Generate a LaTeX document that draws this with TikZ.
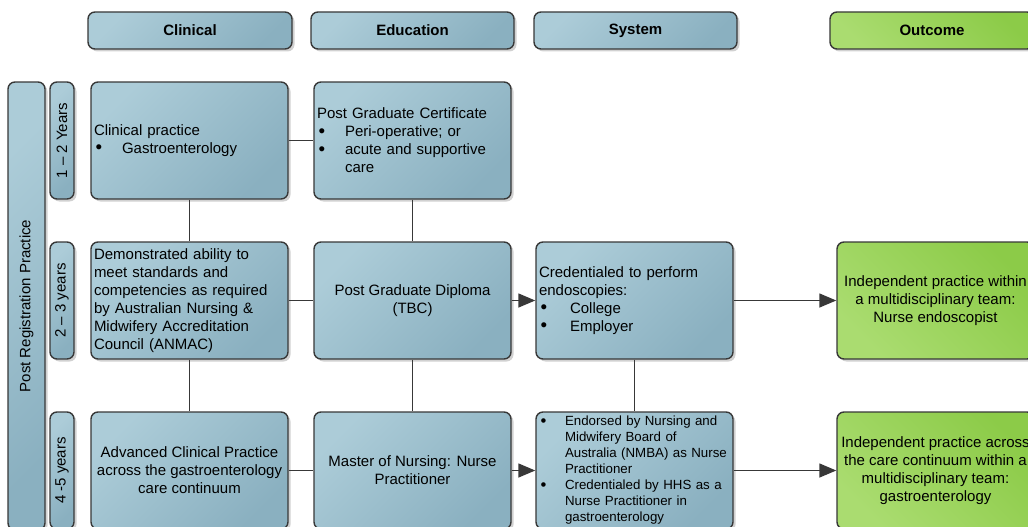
\documentclass[tikz,border=0pt]{standalone}
\usepackage{fontspec}
\setmainfont{Liberation Sans}
\usetikzlibrary{shadows,arrows.meta}
\definecolor{blueL}{HTML}{ACCCD8}
\definecolor{blueD}{HTML}{8AB0C0}
\definecolor{greenL}{HTML}{AADC70}
\definecolor{greenD}{HTML}{8CCB48}
\definecolor{edgec}{HTML}{383838}
\newcommand{\bul}[1][28pt]{\makebox[#1][l]{\hspace{1.5pt}\raisebox{-0.3pt}{\scalebox{1.25}{\textbullet}}}}
\newcommand{\ind}[1][28pt]{\hspace*{#1}}
\begin{document}
\begin{tikzpicture}[x=1pt,y=-1pt,
  shadowed/.style={drop shadow={shadow xshift=2.5pt,shadow yshift=-2.5pt,fill=black!40,opacity=0.45}},
  bluebox/.style={draw=edgec, line width=1.4pt, rounded corners=7pt,
    top color=blueL, bottom color=blueD, shading angle=45, shadowed,
    inner xsep=3pt, inner ysep=0pt, font=\fontsize{15}{18}\selectfont},
  greenbox/.style={bluebox, top color=greenD, bottom color=greenL, shading angle=-45},
  cell/.style={minimum width=197pt, minimum height=117pt},
  lefttext/.style={text width=191pt, align=left},
  centertext/.style={align=center},
  header/.style={minimum height=37pt, font=\fontsize{15}{18}\selectfont\bfseries},
  yearbar/.style={bluebox, minimum width=24pt, minimum height=117pt, inner xsep=0pt},
  sidelabel/.style={rotate=90, font=\fontsize{15}{18}\selectfont},
  conn/.style={draw=edgec, line width=1.4pt},
  arr/.style={conn, -{Triangle[length=17pt,width=14pt]}}
]
\useasboundingbox (0,0) rectangle (1028,527);

% headers
\node[bluebox, header, minimum width=204pt] (hclin) at (190,30.5) {Clinical};
\node[bluebox, header, minimum width=203pt] (hedu) at (412.5,30.5) {Education};
\node[bluebox, header, minimum width=203pt] (hsys) at (635.5,30.5) {System};
\node[greenbox, header, minimum width=204pt] (hout) at (932,30.5) {Outcome};

% left bars
\node[bluebox, minimum width=37pt, minimum height=448pt] (prp) at (26.5,306) {};
\node[sidelabel] (prpl) at (prp.center) {Post Registration Practice};
\node[yearbar] (y1) at (62,140.5) {};
\node[sidelabel] (y1l) at (y1.center) {1 – 2 Years};
\node[yearbar] (y2) at (62,300.5) {};
\node[sidelabel] (y2l) at (y2.center) {2 – 3 years};
\node[yearbar] (y3) at (62,470.5) {};
\node[sidelabel] (y3l) at (y3.center) {4 -5 years};

% row 1
\node[bluebox, cell, lefttext] (c1) at (189.5,140.5)
  {Clinical practice\\ \bul Gastroenterology};
\node[bluebox, cell, lefttext] (e1) at (412.5,140.5)
  {Post Graduate Certificate\\ \bul Peri-operative; or\\ \bul acute and supportive\\ \ind care};

% row 2
\node[bluebox, cell, lefttext] (c2) at (189.5,300.5)
  {Demonstrated ability to\\ meet standards and\\ competencies as required\\ by Australian Nursing \&\\ Midwifery Accreditation\\ Council (ANMAC)};
\node[bluebox, cell, centertext] (e2) at (412.5,300.5)
  {Post Graduate Diploma\\ (TBC)};
\node[bluebox, cell, lefttext] (s2) at (634.5,300.5)
  {Credentialed to perform\\ endoscopies:\\ \bul[26pt] College\\ \bul[26pt] Employer};
\node[greenbox, cell, centertext] (o2) at (935.5,300.5)
  {Independent practice within\\ a multidisciplinary team:\\ Nurse endoscopist};

% row 3
\node[bluebox, cell, centertext] (c3) at (189.5,470.5)
  {Advanced Clinical Practice\\ across the gastroenterology\\ care continuum};
\node[bluebox, cell, centertext] (e3) at (412.5,470.5)
  {Master of Nursing: Nurse\\ Practitioner};
\node[bluebox, cell, lefttext, font=\fontsize{13.3}{16}\selectfont] (s3) at (634.5,470.5)
  {\bul[26pt]Endorsed by Nursing and\\ \ind[26pt]Midwifery Board of\\ \ind[26pt]Australia (NMBA) as Nurse\\ \ind[26pt]Practitioner\\ \bul[26pt]Credentialed by HHS as a\\ \ind[26pt]Nurse Practitioner in\\ \ind[26pt]gastroenterology};
\node[greenbox, cell, centertext] (o3) at (935.5,470.5)
  {Independent practice across\\ the care continuum within a\\ multidisciplinary team:\\ gastroenterology};

% connectors
\draw[conn] (c1) -- (e1);
\draw[conn] (c1) -- (c2);
\draw[conn] (e1) -- (e2);
\draw[conn] (c2) -- (e2);
\draw[arr] (e2) -- (s2);
\draw[arr] (s2) -- (o2);
\draw[conn] (c2) -- (c3);
\draw[conn] (e2) -- (e3);
\draw[conn] (s2) -- (s3);
\draw[conn] (c3) -- (e3);
\draw[arr] (e3) -- (s3);
\draw[arr] (s3) -- (o3);
\end{tikzpicture}
\end{document}
